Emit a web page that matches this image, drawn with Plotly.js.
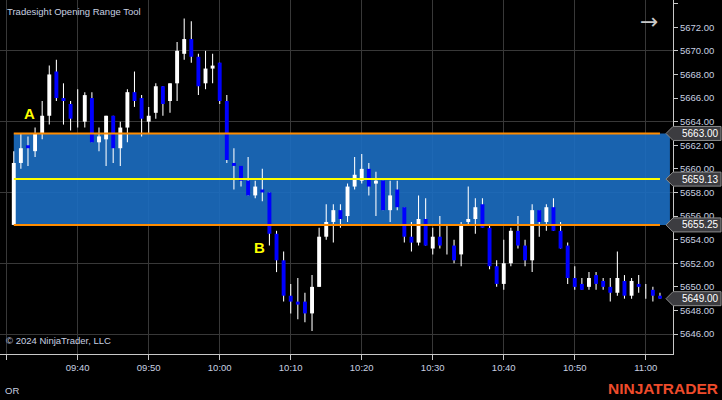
<!DOCTYPE html>
<html>
<head>
<meta charset="utf-8">
<script src="https://cdn.plot.ly/plotly-3.0.1.min.js"></script>
<style>html,body{margin:0;padding:0;background:#000;}#chart{width:722px;height:400px;}</style>
</head>
<body>
<div id="chart"></div>
<script>
const day = '2024-10-01 ';
const times = [
 '09:31','09:32','09:33','09:34','09:35','09:36','09:37','09:38','09:39','09:40',
 '09:41','09:42','09:43','09:44','09:45','09:46','09:47','09:48','09:49','09:50',
 '09:51','09:52','09:53','09:54','09:55','09:56','09:57','09:58','09:59','10:00',
 '10:01','10:02','10:03','10:04','10:05','10:06','10:07','10:08','10:09','10:10',
 '10:11','10:12','10:13','10:14','10:15','10:16','10:17','10:18','10:19','10:20',
 '10:21','10:22','10:23','10:24','10:25','10:26','10:27','10:28','10:29','10:30',
 '10:31','10:32','10:33','10:34','10:35','10:36','10:37','10:38','10:39','10:40',
 '10:41','10:42','10:43','10:44','10:45','10:46','10:47','10:48','10:49','10:50',
 '10:51','10:52','10:53','10:54','10:55','10:56','10:57','10:58','10:59','11:00',
 '11:01','11:02'
];
const opens = [
 5655.25,5660.5,5662,5661.5,5663,5664.5,5668.25,5666,5665.5,5664.25,
 5664,5666,5662.25,5662.5,5664.5,5661.75,5663.5,5666.5,5666,5664,
 5664.75,5667,5665.75,5667.25,5669.75,5671,5669.5,5667.25,5668.5,5669,
 5665.75,5660.5,5660.25,5659,5657.75,5658.25,5658,5654.5,5652.25,5649.25,
 5648.75,5648.75,5647.75,5650,5654.25,5655.5,5656.5,5656,5658.5,5659,
 5660,5658.75,5659,5656.5,5658.25,5656.75,5654.25,5653.75,5655.75,5653.25,
 5654.25,5653.75,5653.5,5652.75,5655.5,5655.75,5657,5655,5651.75,5650.25,
 5652,5654.75,5653.5,5652.25,5656.5,5655.5,5656.75,5654.75,5653.5,5650.75,
 5650.25,5650,5651,5650.5,5650,5649.5,5650.5,5649.25,5650.25,5650,
 5649.75,5649.25
];
const highs = [
 5661.5,5663,5662.75,5663.5,5665.75,5668.75,5669.25,5667.25,5665.75,5666.75,
 5666.5,5666.5,5663.5,5664.5,5664.5,5664,5666.75,5668.25,5666.25,5665.25,
 5667.25,5667,5667.25,5670.75,5672.75,5672.5,5669.75,5670,5669.75,5669,
 5666.25,5661.75,5660.25,5661,5659,5660,5658,5654.75,5653,5650.25,
 5650.75,5649.5,5651,5655,5657,5657,5657,5658.75,5661,5661.25,
 5660.5,5659.75,5659,5659,5659,5656.75,5655.5,5657.75,5657.5,5655,
 5656,5655.25,5654,5655.5,5658.5,5657.5,5657.5,5655.25,5652.25,5654,
 5655,5656,5654,5657,5656.5,5657,5657.5,5655.5,5653.75,5651.75,
 5650.75,5651.25,5651.25,5650.75,5650.75,5653,5651,5650.75,5651,5650.25,
 5650,5649.5
];
const lows = [
 5655.25,5660,5660.25,5661,5662.5,5663.75,5665.75,5663.75,5663.25,5663.5,
 5663.5,5662.25,5661.5,5660.25,5660.5,5660.25,5662.25,5665.25,5662.75,5663,
 5664.25,5664.5,5664.75,5665.75,5669.25,5669,5666.25,5666.75,5667.25,5665.5,
 5660.5,5658.25,5658.5,5657.75,5657.5,5657.25,5653.5,5651.25,5648.75,5647.75,
 5647.25,5647,5646.25,5650,5654,5653.75,5655,5655.5,5658.25,5658.75,
 5657.75,5656,5656.5,5655.5,5656.5,5653.75,5653,5653.5,5653.5,5652.75,
 5653.25,5652.75,5652,5651.75,5655.25,5654.5,5655,5651.5,5650,5649.75,
 5651.75,5653.25,5651.75,5651.25,5654.25,5654.75,5654.75,5653.25,5650.25,5649.75,
 5649.75,5649.75,5649.75,5649.75,5648.75,5649.25,5649,5649,5649.5,5649,
 5648.75,5649
];
const closes = [
 5660.5,5661.75,5661.75,5663,5664.5,5668,5666,5665.75,5664.25,5664.25,
 5666.25,5662.25,5662.75,5664.5,5661.75,5663.5,5666.5,5665.75,5664.25,5664.5,
 5667,5665.5,5667.25,5670,5671,5669.5,5667,5668.5,5668.75,5665.75,
 5660.75,5660.25,5659,5657.75,5658.5,5658,5654.5,5652.25,5649.25,5648.75,
 5648.5,5647.75,5650,5654.25,5655.5,5656.5,5655.75,5658.5,5659.5,5660,
 5658.5,5659,5656.5,5657.75,5656.75,5654.25,5653.75,5655.75,5653.5,5654.25,
 5653.5,5653.75,5652.25,5655.25,5655.75,5656.75,5655,5651.75,5650.25,5652,
 5654.75,5653.5,5652.25,5656.5,5655.5,5656.75,5654.75,5653.25,5650.75,5650,
 5649.75,5650.75,5650.25,5650,5649.5,5650.75,5649.25,5650.5,5650,5650,
 5649.25,5649
];
const orHigh = 5663.00;
const orLow = 5655.25;
const orMid = 5659.13;
const yTickVals = [5646,5648,5650,5652,5654,5656,5658,5660,5662,5664,5666,5668,5670,5672,5674];
const titleText = 'Tradesight Opening Range Tool';
const copyText = '\u00A9 2024 NinjaTrader, LLC';

const xs = times.map(t => day + t);
const lastClose = closes[closes.length - 1];
const Y_RANGE = [5644.31, 5674.31];
const X_RANGE = [day + '09:29:03.6', day + '11:03:50'];
const labelColor = '#c8d0e0';
const fontFam = 'Liberation Sans, Arial, sans-serif';

const wick = {
  type: 'bar', x: xs, base: lows, y: highs.map((h, i) => h - lows[i]),
  width: 9000, marker: {color: '#ffffff', line: {width: 0}},
  hoverinfo: 'skip', showlegend: false
};
const body = {
  type: 'bar', x: xs,
  base: opens.map((o, i) => Math.min(o, closes[i])),
  y: opens.map((o, i) => Math.abs(closes[i] - o)),
  width: 33000,
  marker: {color: opens.map((o, i) => closes[i] >= o ? '#ffffff' : '#0000ff'), line: {width: 0}},
  hoverinfo: 'skip', showlegend: false
};
const dummy = {
  type: 'scatter', mode: 'markers', x: [xs[0]], y: [lastClose], yaxis: 'y2',
  marker: {opacity: 0}, hoverinfo: 'skip', showlegend: false
};

const lastT = new Date(day.trim() + 'T' + times[times.length - 1] + ':00');
function fmt(d){const p=n=>String(n).padStart(2,'0');return day+p(d.getHours())+':'+p(d.getMinutes())+':'+p(d.getSeconds());}
const rectEnd = fmt(new Date(lastT.getTime() + 84000));

const shapes = [
  {type:'rect', xref:'x', yref:'y', x0: xs[0], x1: rectEnd, y0: orLow, y1: orHigh,
   fillcolor:'rgba(28,110,194,0.9)', line:{width:0}, layer:'between'},
  {type:'line', xref:'x', yref:'y', x0: xs[0], x1: xs[xs.length-1], y0: orHigh, y1: orHigh, line:{color:'#ff8c00', width:2}, layer:'above'},
  {type:'line', xref:'x', yref:'y', x0: xs[0], x1: xs[xs.length-1], y0: orLow, y1: orLow, line:{color:'#ff8c00', width:2}, layer:'above'},
  {type:'line', xref:'x', yref:'y', x0: xs[0], x1: xs[xs.length-1], y0: orMid, y1: orMid, line:{color:'#ffff00', width:2}, layer:'above'}
];
const markerVals = [orHigh, orMid, orLow, lastClose];
const annotations = [];
markerVals.forEach(v => {
  shapes.push({type:'path', xref:'paper', yref:'y', xsizemode:'pixel', ysizemode:'pixel',
    xanchor: 1, yanchor: v, path:'M-7,0L0,7L48,7L48,-7L0,-7Z',
    fillcolor:'#3c3c40', line:{color:'#8a8a8a', width:1}, layer:'above'});
  annotations.push({xref:'paper', yref:'y', x:1, y:v, xanchor:'left', yanchor:'middle', xshift:7,
    text: v.toFixed(2), showarrow:false, font:{family:fontFam, size:10, color:'#ffffff'}});
});
annotations.push(
  {xref:'paper', yref:'paper', x:0, y:1, xanchor:'left', yanchor:'top', xshift:5, yshift:-4,
   text:titleText, showarrow:false, font:{family:fontFam, size:9.5, color:labelColor}},
  {xref:'paper', yref:'paper', x:0, y:0, xanchor:'left', yanchor:'bottom', xshift:4, yshift:6,
   text:copyText, showarrow:false, font:{family:fontFam, size:9.5, color:labelColor}},
  {xref:'paper', yref:'paper', x:0, y:0, xanchor:'left', yanchor:'middle', xshift:3, yshift:-36,
   text:'OR', showarrow:false, font:{family:fontFam, size:9.5, color:labelColor}},
  {xref:'paper', yref:'paper', x:1, y:0, xanchor:'right', yanchor:'middle', xshift:47, yshift:-34,
   text:'<b>NINJATRADER</b>', showarrow:false, font:{family:fontFam, size:15.5, color:'#ee4b2b'}},
  {xref:'paper', yref:'paper', x:1, y:1, xanchor:'center', yanchor:'middle', xshift:-24, yshift:-21,
   text:'\u2192', showarrow:false, font:{family:'DejaVu Sans', size:22, color:'#c8c8c8'}},
  {xref:'x', yref:'y', x: day + '09:33:17', y: 5664.7, text:'<b>A</b>', showarrow:false,
   font:{family:fontFam, size:15, color:'#ffff00'}},
  {xref:'x', yref:'y', x: day + '10:05:40', y: 5653.3, text:'<b>B</b>', showarrow:false,
   font:{family:fontFam, size:15, color:'#ffff00'}}
);

const layout = {
  width: 722, height: 400,
  paper_bgcolor:'#000000', plot_bgcolor:'#000000',
  margin:{l:0, r:49, t:0, b:46, pad:0},
  barmode:'overlay', showlegend:false,
  xaxis:{type:'date', range:X_RANGE, tick0: day + '09:40', dtick:600000, tickformat:'%H:%M',
    showgrid:true, gridcolor:'#383838', gridwidth:1, zeroline:false,
    ticks:'outside', ticklen:5, tickcolor:'#c8c8c8', showline:true, linecolor:'#c8c8c8', linewidth:1,
    tickfont:{family:fontFam, size:9.5, color:labelColor}, fixedrange:true},
  yaxis:{range:Y_RANGE, tick0:5646, dtick:6, showgrid:true, gridcolor:'#383838', gridwidth:1,
    showticklabels:false, ticks:'', zeroline:false, showline:false, fixedrange:true},
  yaxis2:{overlaying:'y', side:'right', range:Y_RANGE, tickmode:'array', tickvals:yTickVals,
    ticktext: yTickVals.map(v => v === yTickVals[yTickVals.length-1] ? '' : v.toFixed(2)),
    showgrid:false, zeroline:false, ticks:'outside', ticklen:4, tickcolor:'#c8c8c8',
    showline:true, linecolor:'#c8c8c8', linewidth:1,
    tickfont:{family:fontFam, size:9.5, color:labelColor}, fixedrange:true},
  shapes: shapes, annotations: annotations
};
Plotly.newPlot('chart', [wick, body, dummy], layout, {displayModeBar:false, staticPlot:true});
</script>
</body>
</html>
